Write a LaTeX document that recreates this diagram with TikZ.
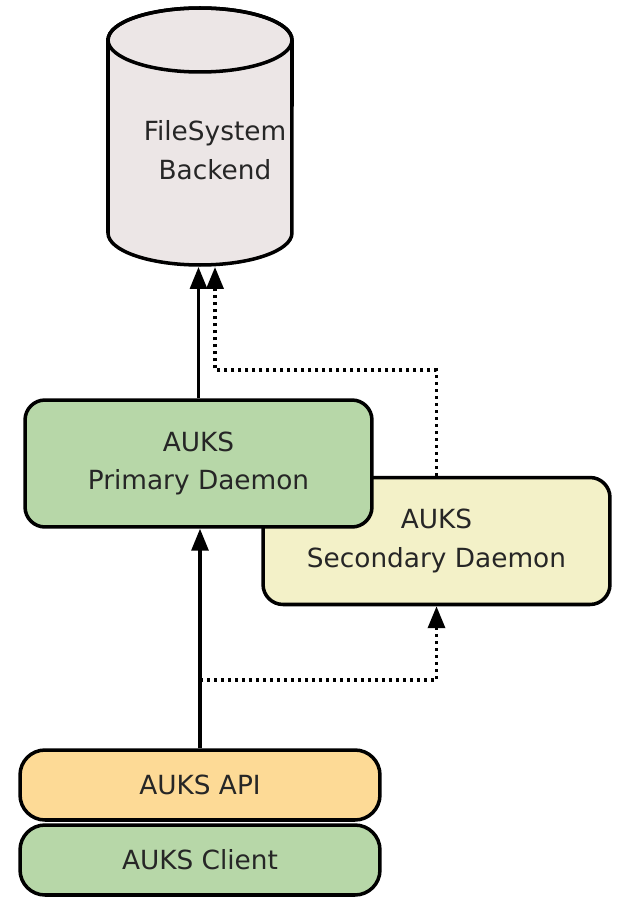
\documentclass[tikz,border=0pt]{standalone}
\usepackage{fontspec}
\setmainfont{DejaVu Sans}
\usetikzlibrary{arrows.meta}
\definecolor{daemongreen}{RGB}{183,215,168}
\definecolor{daemonyellow}{RGB}{243,241,200}
\definecolor{apiorange}{RGB}{253,218,150}
\definecolor{diskgray}{RGB}{236,230,230}
\tikzset{
  label text/.style={align=center, font=\fontsize{15}{22}\selectfont, text=black!85},
  box/.style={draw, line width=2pt, rounded corners=0.4cm, label text},
  layer/.style={box, rounded corners=0.5cm, minimum width=7.2cm, minimum height=1.4cm},
  daemon/.style={box, minimum width=6.94cm, minimum height=2.54cm},
  disk/.style={draw, line width=2pt, fill=diskgray},
  link/.style={line width=1.8pt, -{Triangle[width=0.34cm,length=0.44cm]}},
  backup/.style={link, line width=2pt, dash pattern=on 0.06cm off 0.08cm}
}
\begin{document}
\begin{tikzpicture}[x=0.02cm, y=-0.02cm]
\useasboundingbox (0,0) rectangle (619,898);
\draw[disk] (108,40) -- (108,233) arc[start angle=180, end angle=360, x radius=1.84cm, y radius=0.64cm] -- (292,40) arc[start angle=0, end angle=180, x radius=1.84cm, y radius=0.64cm] -- cycle;
\draw[line width=2pt] (200,40) ellipse [x radius=1.84cm, y radius=0.64cm];
\node[label text] (fs) at (215,150) {FileSystem\\Backend};
\coordinate (fsbottom) at (200,267);
\node[daemon, fill=daemonyellow] (secondary) at (436.5,541) {AUKS\\Secondary Daemon};
\node[daemon, fill=daemongreen] (primary) at (198.5,463.5) {AUKS\\Primary Daemon};
\node[layer, fill=apiorange] (api) at (200,785) {AUKS API};
\node[layer, fill=daemongreen] (client) at (200,860) {AUKS Client};
\coordinate (backturn) at (215,370);
\coordinate (backin) at (215,267);
\coordinate (fork) at (200,680);
\draw[link] (primary.north) -- (primary.north |- fsbottom);
\draw[backup] (secondary.north) |- (backturn) -- (backin);
\draw[link] (api.north) -- (api.north |- primary.south);
\draw[backup] (fork) -| (secondary.south);
\end{tikzpicture}
\end{document}
